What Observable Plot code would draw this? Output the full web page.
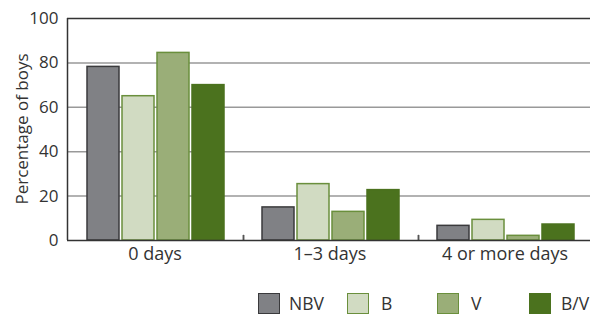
<!DOCTYPE html>
<html>
<head>
<meta charset="utf-8">
<script src="https://cdn.jsdelivr.net/npm/d3@7"></script>
<script src="https://cdn.jsdelivr.net/npm/@observablehq/plot@0.6"></script>
<style>
  html, body { margin: 0; padding: 0; background: #fff; }
  #chart { position: relative; width: 590px; height: 316px; overflow: hidden; font-family: "Open Sans", sans-serif; }
  #chart svg { position: absolute; left: 0; top: 0; }
  #legend { position: absolute; top: 290px; left: 0; width: 590px; height: 24px; }
  .sw { position: absolute; top: 3px; width: 22px; height: 21px; box-sizing: border-box; border: 1.5px solid; }
  .lb { position: absolute; top: 0px; font-size: 17.5px; color: #333; line-height: 26px; white-space: nowrap; }
</style>
</head>
<body>
<div id="chart"></div>
<script>
const categories = ["0 days", "1\u20133 days", "4 or more days"];
const series = ["NBV", "B", "V", "B/V"];
const values = {
  "NBV": [78.2, 14.9, 6.6],
  "B":   [65.0, 25.4, 9.3],
  "V":   [84.5, 12.9, 2.1],
  "B/V": [70.0, 22.7, 7.2]
};
const yTicks = [0, 20, 40, 60, 80, 100];
const fills   = ["#808185", "#d1dbc2", "#9aae78", "#4b721e"];
const strokes = ["#3a3a3c", "#6a8f3c", "#6a8f3c", "#4b721e"];

const data = [];
categories.forEach((c, i) => series.forEach(s => data.push({category: c, series: s, value: values[s][i]})));
const seps = categories.slice(0, -1).map(c => ({category: c, series: "sep"}));

const common = {width: 590, height: 276, marginTop: 18, marginBottom: 36, marginLeft: 67, marginRight: 0};

// back layer: y axis labels and gridlines
const back = Plot.plot({
  ...common,
  style: {fontFamily: "Open Sans, sans-serif", fontSize: "17px", color: "#333", background: "transparent"},
  x: {domain: [0, 1], range: [67, 592], axis: null},
  y: {domain: [0, 100], ticks: yTicks, label: null, tickSize: 0, tickPadding: 9},
  marks: [
    Plot.ruleY(yTicks.filter(t => t > 0 && t < 100), {stroke: "#999", strokeWidth: 1.5})
  ]
});

// middle layer: faceted bars
const plot = Plot.plot({
  ...common,
  style: {fontFamily: "Open Sans, sans-serif", fontSize: "18px", color: "#333", background: "transparent"},
  fx: {domain: categories, range: [67, 592], padding: 0, label: null, tickSize: 0, tickPadding: 7},
  x: {domain: [...series, "sep"], range: [87, 259], paddingInner: 0.1, paddingOuter: 0, axis: null},
  y: {domain: [0, 100], axis: null},
  color: {domain: series, range: fills},
  facet: {data, x: "category"},
  marks: [
    Plot.barY(data, {x: "series", y: "value", fill: "series",
      stroke: d => strokes[series.indexOf(d.series)], strokeWidth: 1.5}),
    Plot.ruleX(seps, {x: "series", y1: 0, y2: 2.3, stroke: "#555", strokeWidth: 1.5})
  ]
});

// top layer: frame lines
const overlay = Plot.plot({
  ...common,
  x: {domain: [0, 1], range: [67, 592], axis: null},
  y: {domain: [0, 100], axis: null},
  style: {background: "transparent"},
  marks: [
    Plot.ruleY([0, 100], {stroke: "#333", strokeWidth: 1.5}),
    Plot.ruleX([0], {y1: 0, y2: 100, stroke: "#333", strokeWidth: 1.5})
  ]
});

const chart = document.getElementById("chart");
chart.appendChild(back);
chart.appendChild(plot);
chart.appendChild(overlay);

// y-axis title
const title = document.createElement("div");
title.textContent = "Percentage of boys";
title.style.cssText = "position:absolute;left:21px;top:129px;transform:translate(-50%,-50%) rotate(-90deg);font-size:17px;color:#333;white-space:nowrap;";
chart.appendChild(title);

// legend
const legend = document.createElement("div");
legend.id = "legend";
const swX = [258, 347, 437, 529];
const lbX = [289, 381, 471, 561];
series.forEach((s, i) => {
  const sw = document.createElement("div");
  sw.className = "sw";
  sw.style.left = swX[i] + "px";
  sw.style.background = fills[i];
  sw.style.borderColor = strokes[i];
  legend.appendChild(sw);
  const lb = document.createElement("div");
  lb.className = "lb";
  lb.style.left = lbX[i] + "px";
  lb.textContent = s;
  legend.appendChild(lb);
});
chart.appendChild(legend);
</script>
</body>
</html>
